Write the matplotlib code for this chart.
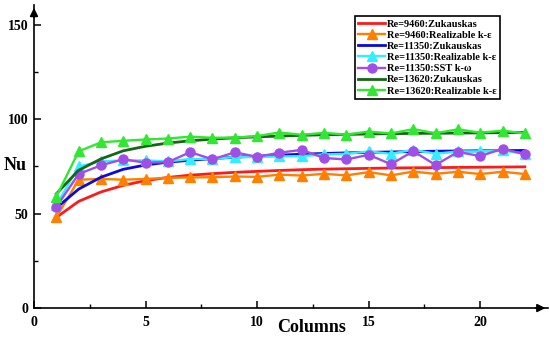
"""Nu along the tube columns: Zukauskas correlation vs CFD models."""
import numpy as np
import matplotlib
matplotlib.use('Agg')
import matplotlib.pyplot as plt

columns = np.arange(1, 23)

zuk_9460 = [48, 56.5, 61.5, 65, 67.5, 69.2, 70.4, 71.2, 71.9, 72.4, 72.9,
            73.3, 73.6, 73.8, 74.0, 74.2, 74.3, 74.4, 74.5, 74.6, 74.7, 74.8]
rke_9460 = [48, 68, 68.4, 68, 68.4, 69, 69.2, 69.3, 69.7, 69.5, 70.7,
            70.2, 71.1, 70.3, 72, 70.3, 72.3, 71.1, 72.2, 71, 72.2, 71]
zuk_11350 = [53, 63, 69.3, 73.5, 75.8, 77.3, 78.3, 79.2, 79.9, 80.5, 81.0,
             81.5, 81.9, 82.2, 82.5, 82.7, 82.9, 83.1, 83.2, 83.3, 83.4, 83.5]
rke_11350 = [54.5, 75, 77.7, 78.2, 78.2, 77.7, 79, 79, 80, 80, 80.3,
             80.5, 81.4, 81.7, 83, 81.7, 83.9, 81.7, 83, 83, 83.5, 81.7]
sst_11350 = [53.5, 71, 75.6, 78.8, 77, 77.3, 82.6, 78.8, 82.5, 80.1, 82.3,
             83.8, 79.5, 78.7, 81.2, 76.2, 83.1, 75.8, 82.7, 80.5, 84.4, 81.5]
zuk_13620 = [60.5, 73, 79, 83.3, 85.7, 87.4, 88.6, 89.5, 90.2, 90.7, 91.1,
             91.5, 91.8, 92.0, 92.2, 92.4, 92.5, 92.6, 92.7, 92.8, 92.9, 93.0]
rke_13620 = [59, 83, 87.8, 88.6, 89.3, 89.8, 90.8, 90.2, 90.3, 91.1, 93,
             91.8, 92.8, 91.9, 93.5, 92.5, 94.8, 92.6, 94.7, 92.9, 94, 92.5]

x_ticks = [0, 5, 10, 15, 20]
y_ticks = [0, 50, 100, 150]

plt.rcParams['font.family'] = ['Liberation Serif', 'DejaVu Serif']
plt.rcParams['font.weight'] = 'bold'

fig = plt.figure(figsize=(5.5, 3.4), dpi=100)
ax = fig.add_axes([0.0618, 0.094, 0.935, 0.891])

ax.plot(columns, zuk_9460, color='#ff1a1a', lw=2.0, label='Re=9460:Zukauskas')
ax.plot(columns, rke_9460, color='#ff8000', lw=1.7, marker='^', ms=7.5,
        label='Re=9460:Realizable k-ε')
ax.plot(columns, zuk_11350, color='#0a0adc', lw=2.0, label='Re=11350:Zukauskas')
ax.plot(columns, rke_11350, color='#33eeff', lw=1.7, marker='^', ms=7.5,
        label='Re=11350:Realizable k-ε')
ax.plot(columns, sst_11350, color='#9f4fe6', lw=1.7, marker='o', ms=6.5,
        label='Re=11350:SST k-ω')
ax.plot(columns, zuk_13620, color='#156615', lw=2.0, label='Re=13620:Zukauskas')
ax.plot(columns, rke_13620, color='#33e633', lw=1.7, marker='^', ms=7.5,
        label='Re=13620:Realizable k-ε')

ax.set_xlim(0, 23.05)
ax.set_ylim(0, 160.5)
ax.set_xticks(x_ticks)
ax.set_yticks(y_ticks)
ax.set_xticks([2.5, 7.5, 12.5, 17.5], minor=True)
ax.set_yticks([25, 75, 125], minor=True)
ax.tick_params(which='major', direction='in', length=5, width=1.1, labelsize=10, pad=4)
ax.tick_params(which='minor', direction='in', length=3, width=1.0)
ax.tick_params(axis='x', which='major', pad=6)

for side in ['top', 'right']:
    ax.spines[side].set_visible(False)
for side in ['left', 'bottom']:
    ax.spines[side].set_linewidth(1.2)

# arrow heads on the axes
ax.annotate('', xy=(1.0, 0), xytext=(0.97, 0), xycoords='axes fraction',
            arrowprops=dict(arrowstyle='-|>', color='k', lw=1.2, mutation_scale=12))
ax.annotate('', xy=(0, 1.0), xytext=(0, 0.95), xycoords='axes fraction',
            arrowprops=dict(arrowstyle='-|>', color='k', lw=1.2, mutation_scale=12))

ax.set_xlabel('Columns', fontsize=13, fontweight='bold')
ax.xaxis.set_label_coords(0.539, -0.036)
ax.set_ylabel('Nu', fontsize=13, fontweight='bold', rotation=0, va='center', ha='center')
ax.yaxis.set_label_coords(-0.037, 0.47)

leg = ax.legend(loc='upper left', bbox_to_anchor=(0.6245, 0.9637), borderaxespad=0,
                fontsize=7.5, handlelength=2.6, handletextpad=0.15, labelspacing=0.18,
                borderpad=0.3, fancybox=False, framealpha=1, edgecolor='k')
leg.get_frame().set_linewidth(1.2)

fig.savefig('out.png', dpi=100)
